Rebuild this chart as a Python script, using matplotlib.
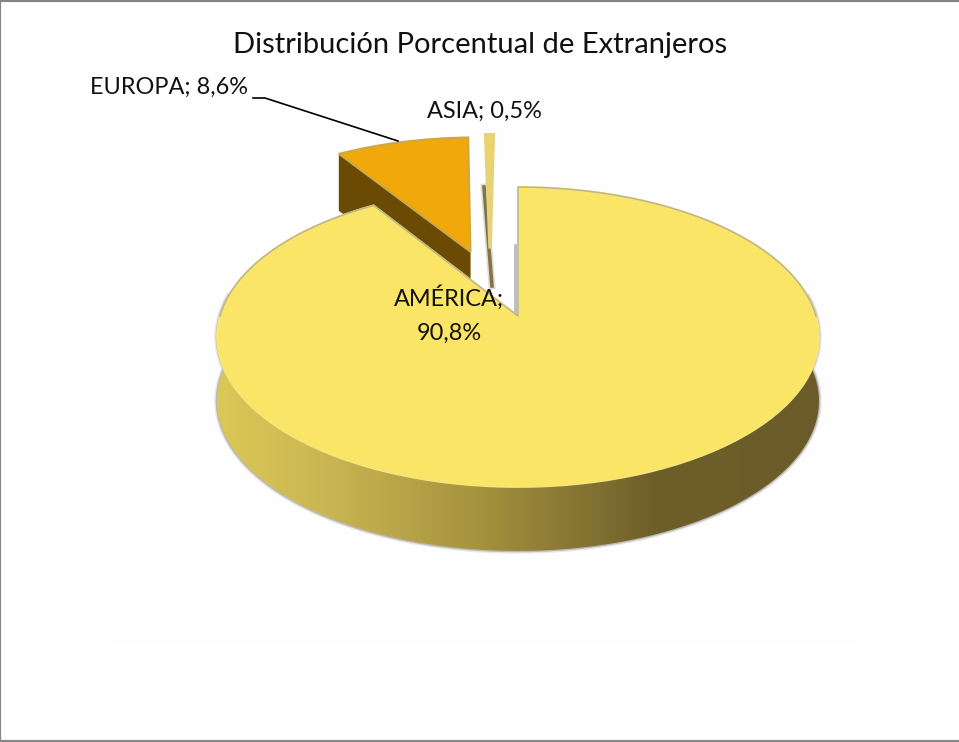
import matplotlib
matplotlib.use("Agg")
import matplotlib.pyplot as plt
import numpy as np
from matplotlib.colors import LinearSegmentedColormap
from matplotlib.patches import Polygon, Rectangle
from matplotlib.transforms import Transform

plt.rcParams['font.family'] = ['Lato', 'DejaVu Sans']

title = "Distribución Porcentual de Extranjeros"
regions = ["AMÉRICA", "EUROPA", "ASIA"]
shares = [90.8, 8.6, 0.5]
explode = [0, 0.486, 0.49]
top_colors = ['#fbe566', '#f0a80a', '#ecd564']
wall_colors = [None, '#6b4a04', None]

# pie tilt, in image pixels
APEX = (518, 316)
SX, SY, C = 298, 147, 0.14
DEPTH = 60


class Tilt(Transform):
    input_dims = 2
    output_dims = 2

    def transform_non_affine(self, xy):
        xy = np.asarray(xy, dtype=float)
        d = 1 + C * xy[:, 1]
        return np.column_stack([APEX[0] + SX * xy[:, 0] / d, APEX[1] - SY * xy[:, 1] / d])


tilt = Tilt()


def rim(a1, a2, n=200):
    t = np.radians(np.linspace(a1, a2, n))
    return tilt.transform(np.column_stack([np.cos(t), np.sin(t)]))


fig = plt.figure(figsize=(9.59, 7.42), dpi=100)
ax = fig.add_axes([0, 0, 1, 1])

wedges, _ = ax.pie(shares, explode=explode, startangle=90, counterclock=False,
                   wedgeprops={'linewidth': 1.4})
# nudge the pulled out slices sideways, the original does not explode them exactly radially
wedges[1].set_center((wedges[1].center[0] - 0.025, wedges[1].center[1]))
wedges[2].set_center((-0.10, wedges[2].center[1]))

ax.add_patch(Rectangle((105, 68), 755, 577, fc='#fefefe', ec='none', zorder=0))

for i, w in enumerate(wedges):
    w.set_transform(tilt + ax.transData)
    w.set_facecolor(top_colors[i])
    w.set_edgecolor(['#f5e678', '#c9a94a', '#e6d27a'][i])
    w.set_zorder(5 if i == 0 else 3)
wedges[2].set_linewidth(2.5)

# cut face of the orange slice
w = wedges[1]
a = np.radians(w.theta2)
corner = (w.center[0] + np.cos(a), w.center[1] + np.sin(a))
pts = tilt.transform(np.array([w.center, corner]))
ax.add_patch(Polygon(np.vstack([pts, pts[::-1] + [0, DEPTH - 3]]), fc=wall_colors[1], ec='none', zorder=2))
# the thin slice only shows a dark strip
ax.plot([484, 492], [187, 286], color='#6a5a2a', lw=2.6, alpha=0.8, zorder=2)
ax.plot([484, 492], [187, 286], color='#6a5a2a', lw=5, alpha=0.2, zorder=2)

# outer wall of the big slice
top_arc = rim(172, 368)
wall = np.vstack([top_arc, (top_arc + [0, DEPTH + 4])[::-1]])
shade = LinearSegmentedColormap.from_list('wall', [
    (0.0, '#dcc956'), (0.2, '#c9b452'), (0.42, '#a8953f'), (0.6, '#867533'),
    (0.72, '#6e5f2a'), (1.0, '#6a5b29')])
side = Polygon(wall, fc='none', ec='none', zorder=4)
ax.add_patch(side)
img = ax.imshow(np.linspace(0, 1, 256)[None, :], extent=[210, 826, 560, 320], cmap=shade,
                aspect='auto', zorder=4)
img.set_clip_path(side)
# soft edge under the wall
for lw, al in [(4, 0.12), (2, 0.3)]:
    ax.plot(wall[:, 0], wall[:, 1], color='#55504a', lw=lw, alpha=al, zorder=3.5)

# grey rim on the back of the big slice and its cut edges
a_end = wedges[0].theta1 % 360
back = np.vstack([rim(0, 90), [APEX], rim(a_end, 180)])
ax.plot(back[:, 0], back[:, 1], color='#bdb58f', lw=1.1, zorder=6)

# shadow inside the gap
ax.plot([515, 515], [245, 316], color='#777777', lw=2, alpha=0.5, zorder=4.5)

ax.set_xlim(0, 959)
ax.set_ylim(742, 0)
ax.set_aspect('auto')
ax.set_xticks([])
ax.set_yticks([])
ax.set_frame_on(True)
for name, s in ax.spines.items():
    s.set_color('#868686')
    s.set_linewidth({'left': 1.6, 'right': 0, 'top': 3, 'bottom': 3}[name])

ax.text(480, 45, title, ha='center', va='center', fontsize=21, color='#111111', zorder=8)
ax.text(169.5, 87, f"{regions[1]}; {shares[1]:.1f}%".replace('.', ','), ha='center', va='center',
        fontsize=16.9, color='#111111', zorder=8)
ax.text(484.5, 111, f"{regions[2]}; {shares[2]:.1f}%".replace('.', ','), ha='center', va='center',
        fontsize=16.9, color='#111111', zorder=8)
ax.text(449, 314.5, f"{regions[0]};\n{shares[0]:.1f}%".replace('.', ','), ha='center', va='center',
        fontsize=16.9, color='#111111', linespacing=1.73, zorder=8)
ax.plot([253, 265, 398], [98, 98, 141], color='black', lw=1.2, zorder=8)

fig.savefig("out.png", dpi=100)
